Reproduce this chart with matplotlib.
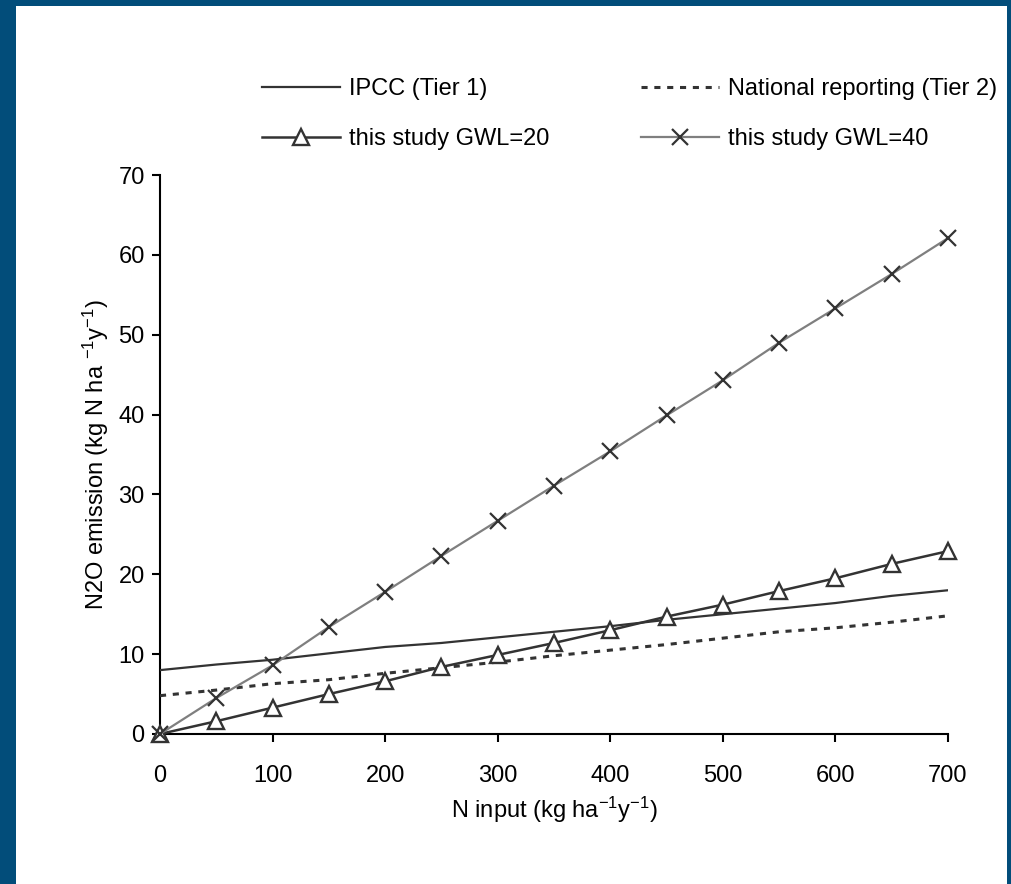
import matplotlib
matplotlib.use("Agg")
import matplotlib.pyplot as plt
from matplotlib.patches import Rectangle

plt.rcParams['font.family'] = ['Liberation Sans', 'DejaVu Sans']
plt.rcParams['mathtext.fontset'] = 'custom'
plt.rcParams['mathtext.rm'] = 'Liberation Sans'
plt.rcParams['mathtext.it'] = 'Liberation Sans'
plt.rcParams['mathtext.default'] = 'regular'

n_input = [0, 50, 100, 150, 200, 250, 300, 350, 400, 450, 500, 550, 600, 650, 700]
ipcc = [8.0, 8.7, 9.3, 10.1, 10.9, 11.4, 12.1, 12.8, 13.5, 14.3, 15.0, 15.7, 16.4, 17.3, 18.0]
national = [4.8, 5.5, 6.3, 6.8, 7.6, 8.3, 9.0, 9.8, 10.5, 11.2, 12.0, 12.8, 13.3, 14.0, 14.8]
gwl20 = [0.0, 1.6, 3.3, 5.0, 6.6, 8.4, 9.9, 11.4, 13.0, 14.7, 16.2, 17.9, 19.5, 21.3, 22.9]
gwl40 = [0.0, 4.5, 8.6, 13.4, 17.8, 22.3, 26.7, 31.1, 35.4, 39.9, 44.3, 49.0, 53.3, 57.6, 62.1]

labels = ["IPCC (Tier 1)", "National reporting (Tier 2)",
          "this study GWL=20", "this study GWL=40"]
x_ticks = [0, 100, 200, 300, 400, 500, 600, 700]
y_ticks = [0, 10, 20, 30, 40, 50, 60, 70]

FS = 17

fig = plt.figure(figsize=(10.12, 8.84), dpi=100, facecolor='#024d7a')
fig.patches.append(Rectangle((16/1012, 0), (1007-16)/1012, 1 - 6/884,
                             transform=fig.transFigure, facecolor='white',
                             edgecolor='none', zorder=-10))

ax = fig.add_axes([160/1012, 1 - 734/884, (948-160)/1012, (734-175)/884])
ax.set_zorder(5)
ax.set_facecolor('none')

dark = '#333333'
l1, = ax.plot(n_input, ipcc, color=dark, lw=1.6, label=labels[0])
l2, = ax.plot(n_input, national, color=dark, lw=2.2, linestyle=(0, (2, 2.2)),
              label=labels[1])
l3, = ax.plot(n_input, gwl20, color=dark, lw=1.8, marker='^', markersize=11,
              markerfacecolor='white', markeredgecolor=dark, markeredgewidth=1.7,
              label=labels[2], clip_on=False)
l4, = ax.plot(n_input, gwl40, color='#7f7f7f', lw=1.6, marker='x', markersize=11,
              markeredgecolor=dark, markeredgewidth=1.6, label=labels[3],
              clip_on=False)

ax.set_xlim(0, 700)
ax.set_ylim(0, 70)
ax.set_xticks(x_ticks)
ax.set_yticks(y_ticks)
for s in ['top', 'right']:
    ax.spines[s].set_visible(False)
for s in ['left', 'bottom']:
    ax.spines[s].set_linewidth(1.5)
    ax.spines[s].set_color('black')
    ax.spines[s].set_zorder(0)
ax.tick_params(direction='out', length=6, width=1.5, labelsize=FS)
ax.tick_params(axis='x', pad=16)
ax.tick_params(axis='y', pad=5)

ax.set_xlabel("N input (kg ha$^{-1}$y$^{-1}$)", fontsize=FS, labelpad=6)
ax.set_ylabel("N2O emission (kg N ha $^{-1}$y$^{-1}$)", fontsize=FS, labelpad=5)

leg = fig.legend(handles=[l1, l3, l2, l4], labels=[labels[0], labels[2], labels[1], labels[3]],
                 ncol=2, frameon=False, fontsize=FS, loc='upper left',
                 bbox_to_anchor=(262/1012, 1 - 78/884),
                 handlelength=3.3, handletextpad=0.4, columnspacing=3.85,
                 labelspacing=1.2, borderpad=0, borderaxespad=0)

fig.savefig("out.png", dpi=100, facecolor=fig.get_facecolor())
